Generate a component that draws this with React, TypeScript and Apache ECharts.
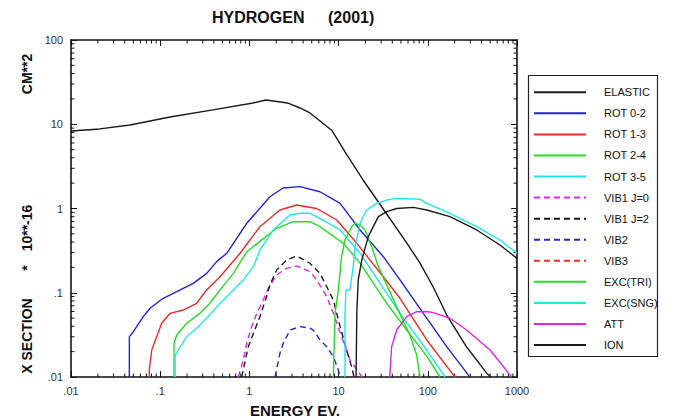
import React, { useEffect, useRef } from 'react';
import * as echarts from 'echarts';

// ---- Data (energy eV, cross section 1e-16 cm^2) ----
const elastic = [[0.01, 8.3], [0.0211, 8.8], [0.0458, 9.8], [0.129, 12.2], [0.39, 14.8], [1.1, 17.9], [1.53, 19.4], [2.67, 17.9], [3.69, 15.6], [4.77, 13.6], [8.37, 8.5], [11.8, 4.7], [18.8, 2.18], [34.6, 0.86], [58, 0.39], [81.8, 0.225], [115, 0.117], [163, 0.0544], [273, 0.0227], [457, 0.0111], [512, 0.01]];
const rot02 = [[0.0451, 0.01], [0.0451, 0.0301], [0.05, 0.0345], [0.0646, 0.052], [0.077, 0.0654], [0.108, 0.086], [0.153, 0.103], [0.235, 0.129], [0.332, 0.17], [0.43, 0.234], [0.557, 0.294], [0.933, 0.667], [1.7, 1.38], [2.38, 1.75], [3.69, 1.82], [6.18, 1.58], [10.4, 1.15], [17.4, 0.556], [31.7, 0.268], [48.8, 0.142], [89.1, 0.057], [163, 0.0229], [284, 0.0106], [293, 0.01]];
const rot13 = [[0.0755, 0.01], [0.0755, 0.0121], [0.0804, 0.0209], [0.0914, 0.0301], [0.104, 0.0434], [0.129, 0.057], [0.182, 0.0624], [0.256, 0.075], [0.332, 0.108], [0.468, 0.155], [0.786, 0.294], [1.31, 0.608], [2.2, 0.96], [3.39, 1.1], [5.68, 1.0], [9.52, 0.73], [16, 0.386], [31.7, 0.155], [48.8, 0.086], [97.3, 0.0275], [193, 0.0106], [207, 0.01]];
const rot24 = [[0.143, 0.01], [0.143, 0.0251], [0.153, 0.0315], [0.198, 0.0434], [0.279, 0.057], [0.361, 0.075], [0.468, 0.108], [0.661, 0.17], [0.933, 0.307], [2.02, 0.582], [3.1, 0.697], [4.77, 0.697], [6.18, 0.608], [11.3, 0.386], [17.4, 0.225], [34.6, 0.075], [58, 0.0361], [97.3, 0.0177], [137, 0.01]];
const rot35 = [[0.147, 0.01], [0.147, 0.018], [0.198, 0.0301], [0.256, 0.0379], [0.332, 0.0498], [0.43, 0.068], [0.607, 0.0985], [0.855, 0.142], [1.11, 0.204], [1.31, 0.321], [1.85, 0.556], [2.85, 0.838], [3.69, 0.877], [4.77, 0.877], [6.18, 0.765], [10.4, 0.556], [17.4, 0.294], [48.8, 0.057], [97.3, 0.0209], [156, 0.01]];
const vib1j0 = [[0.75, 0.01], [0.855, 0.0159], [0.933, 0.0251], [1.06, 0.0396], [1.21, 0.057], [1.43, 0.082], [1.63, 0.113], [2.02, 0.163], [2.62, 0.195], [3.39, 0.208], [4.77, 0.178], [5.68, 0.142], [7.36, 0.09], [8.73, 0.057], [10.4, 0.0335], [13.4, 0.016], [18.3, 0.01]];
const vib1j2 = [[0.82, 0.01], [0.972, 0.0229], [1.11, 0.033], [1.31, 0.052], [1.56, 0.09], [1.7, 0.124], [2.02, 0.186], [2.62, 0.245], [3.39, 0.273], [4.77, 0.224], [6.18, 0.17], [7.36, 0.118], [8.73, 0.082], [10.4, 0.0396], [12.3, 0.021], [14, 0.0132], [14.9, 0.01]];
const vib2 = [[1.94, 0.01], [2.2, 0.0191], [2.4, 0.0251], [2.85, 0.0361], [3.69, 0.0396], [4.77, 0.038], [5.2, 0.0361], [6.18, 0.0275], [7.36, 0.0229], [8.73, 0.0174], [9.93, 0.0121], [10.4, 0.01]];
const vib3: number[][] = [];
const excTri = [[8.73, 0.01], [9.12, 0.057], [9.93, 0.108], [10.8, 0.268], [11.8, 0.422], [14, 0.608], [15.3, 0.667], [17.4, 0.637], [19.8, 0.556], [23.5, 0.352], [27.9, 0.204], [34.6, 0.124], [44.8, 0.068], [63, 0.0315], [75, 0.0182], [81.8, 0.01]];
const excSng = [[11.8, 0.01], [11.8, 0.057], [12.1, 0.108], [13.4, 0.108], [14.6, 0.204], [15.3, 0.352], [17.4, 0.667], [20.6, 0.96], [26.7, 1.15], [34.6, 1.26], [44.8, 1.32], [81.8, 1.29], [97.3, 1.15], [177, 0.877], [353, 0.608], [644, 0.422], [1000, 0.294]];
const att = [[37.5, 0.01], [39.3, 0.0229], [44.8, 0.0361], [58, 0.052], [75, 0.0596], [97.3, 0.06], [115, 0.058], [177, 0.0498], [273, 0.0361], [498, 0.0209], [835, 0.0106], [870, 0.01]];
const ion = [[15.7, 0.01], [16, 0.057], [16.6, 0.142], [18.2, 0.245], [21.5, 0.463], [27.9, 0.8], [34.6, 0.92], [44.8, 1.0], [68.8, 1.03], [97.3, 0.96], [177, 0.8], [353, 0.556], [644, 0.369], [1000, 0.256]];

const seriesNames = ['ELASTIC', 'ROT 0-2', 'ROT 1-3', 'ROT 2-4', 'ROT 3-5', 'VIB1 J=0', 'VIB1 J=2', 'VIB2', 'VIB3', 'EXC(TRI)', 'EXC(SNG)', 'ATT', 'ION'];
const seriesData = [elastic, rot02, rot13, rot24, rot35, vib1j0, vib1j2, vib2, vib3, excTri, excSng, att, ion];
const seriesColors = ['#1a1a1a', '#2323d6', '#f02828', '#22dd22', '#22e6e6', '#e024e0', '#1a1a1a', '#2323d6', '#f02828', '#22dd22', '#22e6e6', '#e024e0', '#1a1a1a'];
const seriesDashed = [false, false, false, false, false, true, true, true, true, false, false, false, false];

const X_MIN = 0.01, X_MAX = 1000, Y_MIN = 0.01, Y_MAX = 100;
const decadesX = [0.01, 0.1, 1, 10, 100];
const decadesY = [0.01, 0.1, 1, 10];
const minorMult = [2, 3, 4, 5, 6, 7, 8, 9];

const FONT = "'Liberation Sans', Arial, Helvetica, sans-serif";

function fmt(v: number) {
  const n = Number(v.toPrecision(3));
  if (n < 1) return String(n).replace(/^0/, '');
  return String(n);
}

export default function App() {
  const ref = useRef<HTMLDivElement>(null);
  useEffect(() => {
    if (!ref.current) return;
    const chart = echarts.init(ref.current, undefined, { renderer: 'svg' });

    const xMinor: number[][] = [];
    decadesX.forEach(d => minorMult.forEach(m => xMinor.push([d * m, Y_MIN])));
    const yMinor: number[][] = [];
    decadesY.forEach(d => minorMult.forEach(m => yMinor.push([X_MIN, d * m])));

    const axisCommon = {
      type: 'log' as const,
      logBase: 10,
      axisLine: { lineStyle: { color: '#111', width: 1.6 } },
      axisTick: { inside: true, length: 6, lineStyle: { color: '#111', width: 1 } },
      splitLine: { show: false },
    };

    const lineSeries = seriesNames.map((name, i) => ({
      name,
      type: 'line',
      data: seriesData[i],
      symbol: 'none',
      showSymbol: false,
      smooth: false,
      color: seriesColors[i],
      lineStyle: { color: seriesColors[i], width: 1.4, type: seriesDashed[i] ? [6, 4] : 'solid' },
      itemStyle: { color: seriesColors[i] },
      z: 3,
    }));

    const txt = (text: string, x: number, y: number, size: number, align: string, rotation = 0) => ({
      type: 'text', x, y, rotation,
      style: { text, font: `bold ${size}px ${FONT}`, fill: '#111', align, verticalAlign: 'middle', textAlign: align, textVerticalAlign: 'middle' },
    });

    const option: any = {
      animation: false,
      grid: { left: 71, top: 40, width: 446, height: 337, containLabel: false },
      xAxis: [
        {
          ...axisCommon, min: X_MIN, max: X_MAX, splitNumber: 5, position: 'bottom',
          axisLabel: { formatter: fmt, fontSize: 11, color: '#333', margin: 8, fontFamily: FONT },
        },
        {
          ...axisCommon, min: X_MIN, max: X_MAX, splitNumber: 5, position: 'top',
          axisLabel: { show: false },
        },
      ],
      yAxis: [
        {
          ...axisCommon, min: Y_MIN, max: Y_MAX, splitNumber: 4, position: 'left',
          axisLabel: { formatter: fmt, fontSize: 11, color: '#333', margin: 8, fontFamily: FONT },
        },
        {
          ...axisCommon, min: Y_MIN, max: Y_MAX, splitNumber: 4, position: 'right',
          axisLabel: { show: false },
        },
      ],
      legend: {
        orient: 'vertical',
        left: 533,
        top: 85.3,
        padding: 0,
        itemWidth: 52,
        itemHeight: 14,
        itemGap: 7.06,
        selectedMode: false,
        data: seriesNames,
        itemStyle: { opacity: 0, color: 'rgba(0,0,0,0)', borderWidth: 0 },
        textStyle: { fontSize: 11, color: '#111', fontFamily: FONT, padding: [0, 0, 0, 13], lineHeight: 14 },
      },
      graphic: [
        { type: 'rect', shape: { x: 528.5, y: 75.5, width: 129, height: 281 }, style: { fill: 'none', stroke: '#222', lineWidth: 1.2 } },
        txt('HYDROGEN', 212, 17, 16, 'left'),
        txt('(2001)', 328, 17, 16, 'left'),
        txt('ENERGY EV.', 295, 410, 15, 'center'),
        txt('X SECTION', 27, 336, 14, 'center', Math.PI / 2),
        txt('*', 27, 268, 14, 'center', Math.PI / 2),
        txt('10**-16', 27, 228, 14, 'center', Math.PI / 2),
        txt('CM**2', 27, 74, 14, 'center', Math.PI / 2),
      ],
      series: [
        ...lineSeries,
        {
          type: 'custom',
          name: 'xMinorTicks',
          silent: true,
          clip: false,
          data: xMinor,
          encode: { x: 0, y: 1 },
          renderItem: (_p: any, api: any) => {
            const v = api.value(0);
            const b = api.coord([v, Y_MIN]);
            const t = api.coord([v, Y_MAX]);
            return {
              type: 'group',
              children: [
                { type: 'line', shape: { x1: b[0], y1: b[1], x2: b[0], y2: b[1] - 3.5 }, style: { stroke: '#111', lineWidth: 1 } },
                { type: 'line', shape: { x1: t[0], y1: t[1], x2: t[0], y2: t[1] + 3.5 }, style: { stroke: '#111', lineWidth: 1 } },
              ],
            };
          },
        },
        {
          type: 'custom',
          name: 'yMinorTicks',
          silent: true,
          clip: false,
          data: yMinor,
          encode: { x: 0, y: 1 },
          renderItem: (_p: any, api: any) => {
            const v = api.value(1);
            const l = api.coord([X_MIN, v]);
            const r = api.coord([X_MAX, v]);
            return {
              type: 'group',
              children: [
                { type: 'line', shape: { x1: l[0], y1: l[1], x2: l[0] + 3.5, y2: l[1] }, style: { stroke: '#111', lineWidth: 1 } },
                { type: 'line', shape: { x1: r[0], y1: r[1], x2: r[0] - 3.5, y2: r[1] }, style: { stroke: '#111', lineWidth: 1 } },
              ],
            };
          },
        },
      ],
    };

    chart.setOption(option);
    return () => chart.dispose();
  }, []);

  return (
    <div
      ref={ref}
      style={{ position: 'fixed', left: 0, top: 0, width: 673, height: 418, background: '#fff' }}
    />
  );
}
